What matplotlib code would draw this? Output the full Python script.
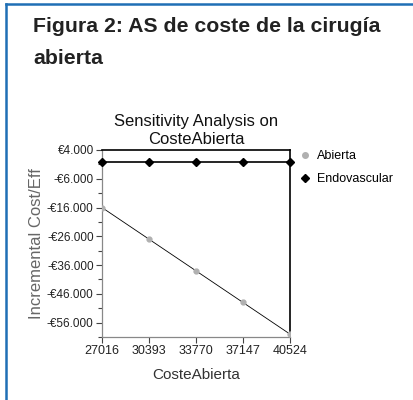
import matplotlib.pyplot as plt
from matplotlib.ticker import FixedLocator
from matplotlib.lines import Line2D

# datos
coste_abierta = [27016, 30393, 33770, 37147, 40524]
icer_abierta = [-16000, -27000, -38000, -49000, -60000]
icer_endovascular = [0, 0, 0, 0, 0]
y_ticks = [4000, -6000, -16000, -26000, -36000, -46000, -56000]
y_labels = ["€4.000", "-€6.000", "-€16.000", "-€26.000", "-€36.000", "-€46.000", "-€56.000"]

plt.rcParams['font.family'] = ['Liberation Sans', 'DejaVu Sans']

fig = plt.figure(figsize=(4.13, 4.0), dpi=100)

# marco azul (solo arriba e izquierda)
fig.add_artist(Line2D([6 / 413, 6 / 413], [0, 1 - 4 / 400], color='#1f6fb5', lw=1.8))
fig.add_artist(Line2D([6 / 413, 1], [1 - 4 / 400, 1 - 4 / 400], color='#1f6fb5', lw=1.8))

fig.text(33 / 413, 1 - 32 / 400, "Figura 2: AS de coste de la cirugía",
         fontsize=15.3, fontweight='bold', color='#222222', ha='left', va='baseline')
fig.text(33 / 413, 1 - 64 / 400, "abierta",
         fontsize=15.3, fontweight='bold', color='#222222', ha='left', va='baseline')

ax = fig.add_axes([102 / 413, 1 - 337 / 400, 188 / 413, 187 / 400])

ax.plot(coste_abierta, icer_abierta, color='black', lw=0.6, marker='o', markersize=3.5,
        markerfacecolor='#b0b0b0', markeredgecolor='#b0b0b0', zorder=3)
ax.plot(coste_abierta, icer_endovascular, color='black', lw=1.2, marker='D', markersize=4.5,
        markerfacecolor='black', markeredgecolor='black', clip_on=False, zorder=4)

ax.set_xlim(coste_abierta[0], coste_abierta[-1])
ax.set_ylim(-61000, 4000)
ax.set_xticks(coste_abierta)
ax.set_xticklabels([str(v) for v in coste_abierta])
ax.yaxis.set_major_locator(FixedLocator(y_ticks))
ax.set_yticklabels(y_labels)
ax.yaxis.set_minor_locator(FixedLocator([-1000, -11000, -21000, -31000, -41000, -51000, -61000]))

ax.tick_params(axis='both', which='major', labelsize=8.5, length=4, width=0.8, color='#444444',
               labelcolor='#222222', pad=2)
ax.tick_params(axis='x', labelsize=9)
ax.tick_params(axis='y', which='minor', length=3, width=0.8, color='#444444')

for s in ['left', 'bottom']:
    ax.spines[s].set_color('#888888')
    ax.spines[s].set_linewidth(0.9)
for s in ['top', 'right']:
    ax.spines[s].set_color('black')
    ax.spines[s].set_linewidth(1.2)

ax.set_title("Sensitivity Analysis on\nCosteAbierta", fontsize=12, color='#111111', pad=4,
             linespacing=1.3)
ax.set_xlabel("CosteAbierta", fontsize=11, color='#333333', labelpad=8)
ax.set_ylabel("Incremental Cost/Eff", fontsize=12, color='#666666', labelpad=2)

legend_1 = Line2D([0], [0], marker='o', linestyle='', markersize=4, markerfacecolor='#b0b0b0',
                  markeredgecolor='#b0b0b0', label="Abierta")
legend_2 = Line2D([0], [0], marker='D', linestyle='', markersize=4.5, color='black', label="Endovascular")
fig.legend(handles=[legend_1, legend_2], loc='upper left', bbox_to_anchor=(299 / 413, 1 - 150 / 400),
           frameon=False, fontsize=9, handletextpad=0.4, handlelength=1.0, labelspacing=0.9,
           borderaxespad=0, borderpad=0)

plt.savefig('out.png', dpi=100)
